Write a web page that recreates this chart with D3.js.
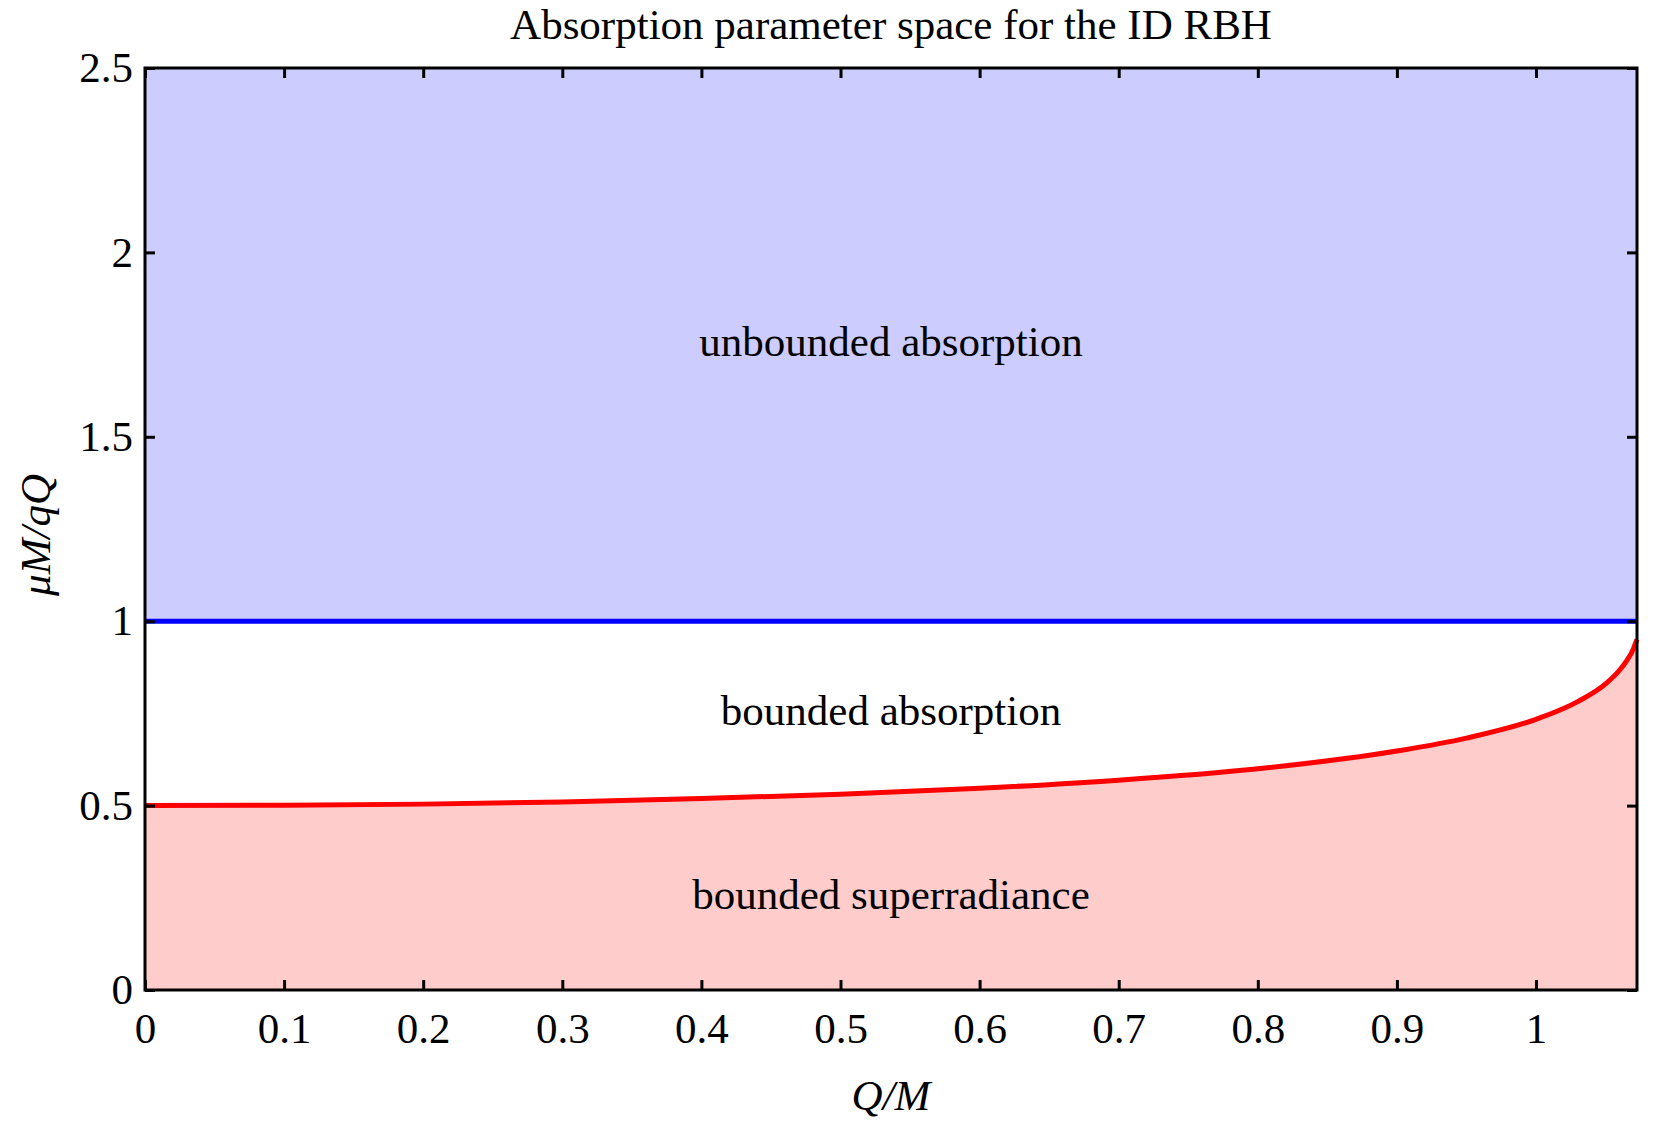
<!DOCTYPE html>
<html><head><meta charset="utf-8">
<script src="https://cdn.jsdelivr.net/npm/d3@7"></script>
<style>body{margin:0;background:#fff}svg{display:block}</style>
</head><body>
<script>
// data
const xTicks = [0,0.1,0.2,0.3,0.4,0.5,0.6,0.7,0.8,0.9,1];
const yTicks = [0,0.5,1,1.5,2,2.5];
const xLabels = ["0","0.1","0.2","0.3","0.4","0.5","0.6","0.7","0.8","0.9","1"];
const yLabels = ["0","0.5","1","1.5","2","2.5"];
const curveQ  = [0,0.1,0.2,0.3,0.4,0.5,0.6,0.7,0.8,0.9,0.95,1.0,1.03,1.05,1.06,1.065,1.07,1.0715,1.0726];
const curveMu = [0.5,0.501,0.504,0.510,0.519,0.531,0.547,0.569,0.600,0.648,0.683,0.734,0.782,0.830,0.867,0.892,0.925,0.940,0.951];
const boundaryMu = 1;
const xMax = 1.0726, yMax = 2.5;
const regionLabels = ["unbounded absorption","bounded absorption","bounded superradiance"];
const regionY = [1.76,0.76,0.26];

const W=1661,H=1132;
const svg=d3.select("body").append("svg").attr("width",W).attr("height",H);
const L=145,R=1637,T=68,B=990;
const x=d3.scaleLinear().domain([0,xMax]).range([L,R]);
const y=d3.scaleLinear().domain([0,yMax]).range([B,T]);
const font="'Liberation Serif','Times New Roman',serif";

// regions
svg.append("rect").attr("x",x(0)).attr("y",y(yMax)).attr("width",x(xMax)-x(0)).attr("height",y(boundaryMu)-y(yMax)).attr("fill","#ccccff");
const pts=curveQ.map((q,i)=>[q,curveMu[i]]);
svg.append("path").datum(pts).attr("fill","#ffcccc")
  .attr("d",d3.area().x(d=>x(d[0])).y0(y(0)).y1(d=>y(d[1])).curve(d3.curveMonotoneX));
svg.append("path").datum(pts).attr("fill","none").attr("stroke","#ff0000").attr("stroke-width",5)
  .attr("d",d3.line().x(d=>x(d[0])).y(d=>y(d[1])).curve(d3.curveMonotoneX));
svg.append("line").attr("x1",x(0)).attr("x2",x(xMax)).attr("y1",y(boundaryMu)).attr("y2",y(boundaryMu))
  .attr("stroke","#0000ff").attr("stroke-width",5);

// axes
const tl=10;
const gB=svg.append("g").attr("transform",`translate(0,${B})`).call(d3.axisBottom(x).tickValues(xTicks).tickSize(-tl).tickFormat((d,i)=>xLabels[i]).tickPadding(22));
const gT=svg.append("g").attr("transform",`translate(0,${T})`).call(d3.axisTop(x).tickValues(xTicks).tickSize(-tl).tickFormat(""));
const gL=svg.append("g").attr("transform",`translate(${L},0)`).call(d3.axisLeft(y).tickValues(yTicks).tickSize(-tl).tickFormat((d,i)=>yLabels[i]).tickPadding(12));
const gR=svg.append("g").attr("transform",`translate(${R},0)`).call(d3.axisRight(y).tickValues(yTicks).tickSize(-tl).tickFormat(""));
[gB,gT,gL,gR].forEach(g=>{g.select(".domain").remove();g.selectAll(".tick line").attr("stroke","#000").attr("stroke-width",3);
  g.selectAll("text").attr("font-family",font).attr("font-size",43).attr("fill","#000");});
svg.append("rect").attr("x",L).attr("y",T).attr("width",R-L).attr("height",B-T).attr("fill","none").attr("stroke","#000").attr("stroke-width",3);

// texts
svg.append("text").attr("x",(L+R)/2).attr("y",39).attr("text-anchor","middle").attr("font-family",font).attr("font-size",43).text("Absorption parameter space for the ID RBH");
regionLabels.forEach((t,i)=>svg.append("text").attr("x",(L+R)/2).attr("y",y(regionY[i])).attr("dy","0.35em").attr("text-anchor","middle").attr("font-family",font).attr("font-size",43).text(t));
svg.append("text").attr("x",(L+R)/2).attr("y",1110).attr("text-anchor","middle").attr("font-family",font).attr("font-style","italic").attr("font-size",43).text("Q/M");
svg.append("text").attr("transform",`translate(50,${535}) rotate(-90)`).attr("text-anchor","middle").attr("font-family",font).attr("font-style","italic").attr("font-size",43).text("μM/qQ");
</script>
</body></html>
